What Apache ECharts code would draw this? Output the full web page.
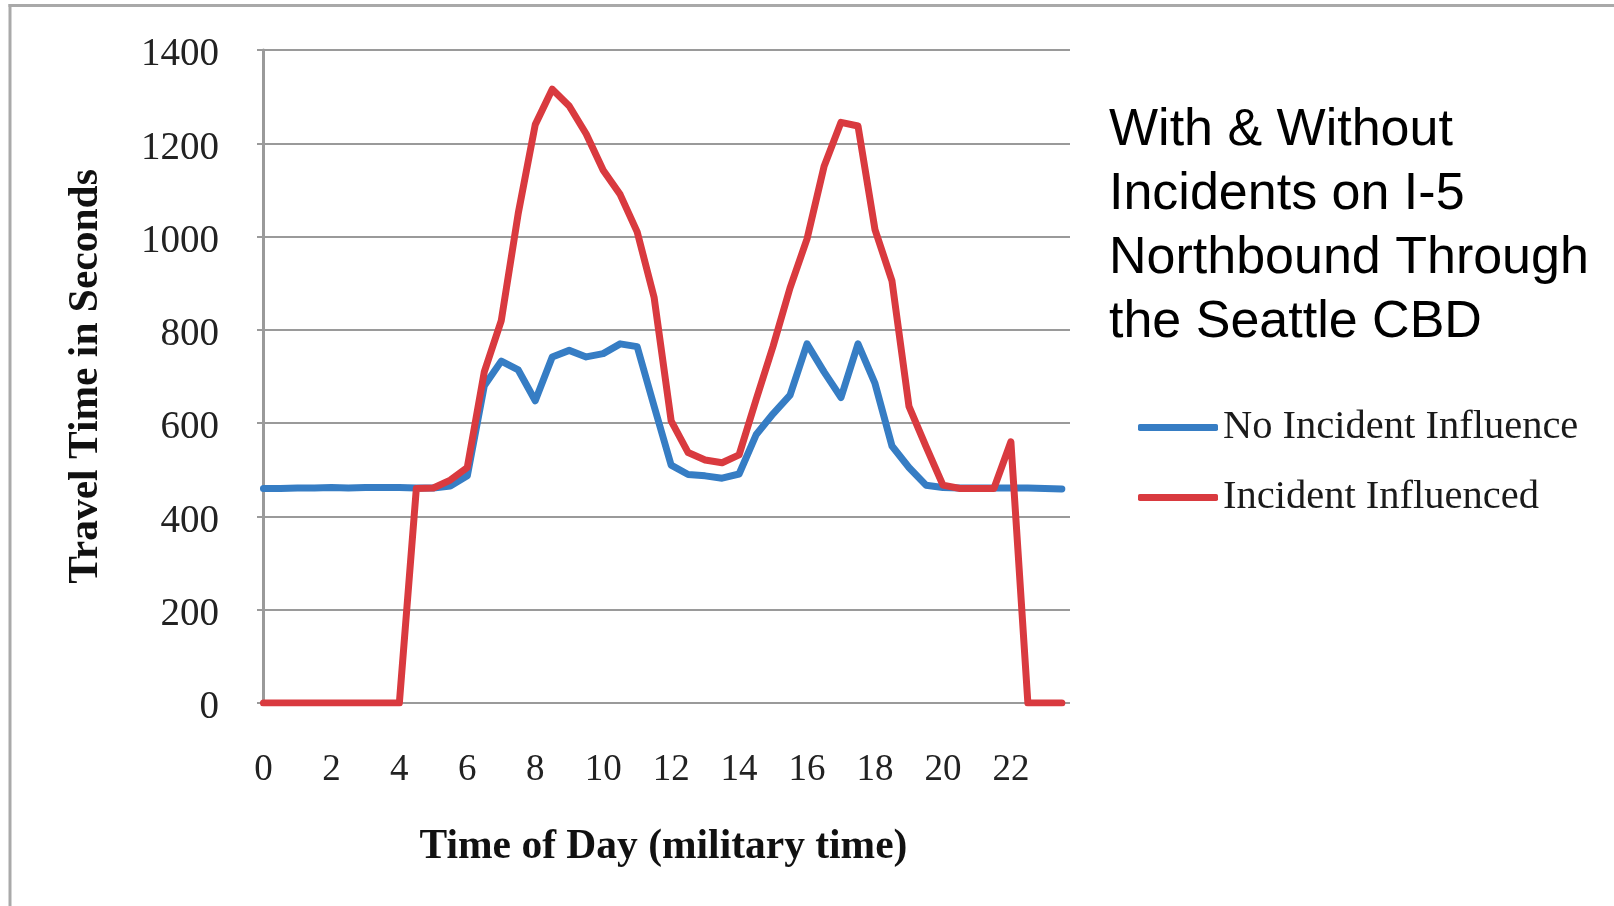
<!DOCTYPE html>
<html>
<head>
<meta charset="utf-8">
<script src="https://cdn.jsdelivr.net/npm/echarts@6/dist/echarts.min.js"></script>
<style>
html,body{margin:0;padding:0;background:#fff;}
#chart{width:1614px;height:906px;}
</style>
</head>
<body>
<div id="chart"></div>
<script>
var hours = [0,0.5,1,1.5,2,2.5,3,3.5,4,4.5,5,5.5,6,6.5,7,7.5,8,8.5,9,9.5,10,10.5,11,11.5,12,12.5,13,13.5,14,14.5,15,15.5,16,16.5,17,17.5,18,18.5,19,19.5,20,20.5,21,21.5,22,22.5,23,23.5];
var noIncident = [460,460,461,461,462,461,462,462,462,461,461,465,487,680,733,714,648,742,756,742,749,770,764,636,510,490,487,482,491,575,620,660,770,710,655,770,685,551,505,467,462,461,461,461,461,461,460,459];
var incident = [0,0,0,0,0,0,0,0,0,460,461,478,505,710,820,1050,1240,1316,1280,1220,1142,1090,1010,869,605,537,521,515,532,650,765,890,995,1150,1245,1237,1015,905,636,550,467,460,460,460,560,0,0,0];
var xTickLabels = [0,2,4,6,8,10,12,14,16,18,20,22];
var seriesNames = ['No Incident Influence','Incident Influenced'];
var titleText = 'With & Without\nIncidents on I-5\nNorthbound Through\nthe Seattle CBD';

function pairs(xs, ys){ return xs.map(function(x,i){ return [x, ys[i]]; }); }

var chart = echarts.init(document.getElementById('chart'));
chart.setOption({
  backgroundColor: '#ffffff',
  animation: false,
  title: {
    text: titleText,
    left: 1104, top: 94,
    textStyle: { fontFamily: 'Liberation Sans', fontSize: 52, lineHeight: 64, fontWeight: 'normal', color: '#000' }
  },
  legend: {
    orient: 'vertical',
    left: 1133, top: 402,
    itemWidth: 80, itemHeight: 7, itemGap: 29,
    icon: 'roundRect',
    textStyle: { fontFamily: 'Liberation Serif', fontSize: 40.5, lineHeight: 40, color: '#1a1a1a' },
    data: seriesNames
  },
  graphic: [
    { type: 'rect', shape: { x: 8.5, y: 4, width: 1606, height: 3 }, style: { fill: '#a9a9a9' } },
    { type: 'rect', shape: { x: 8.5, y: 4, width: 3, height: 902 }, style: { fill: '#a9a9a9' } }
  ],
  grid: { left: 257, right: 544, top: 50, bottom: 203, containLabel: false },
  xAxis: {
    type: 'value', min: -0.19, max: 23.74,
    name: 'Time of Day (military time)', nameLocation: 'middle', nameGap: 123,
    nameTextStyle: { fontFamily: 'Liberation Serif', fontWeight: 'bold', fontSize: 41.5, color: '#111' },
    axisLine: { show: false }, axisTick: { show: false }, splitLine: { show: false },
    axisLabel: { customValues: xTickLabels, margin: 49, fontFamily: 'Liberation Serif', fontSize: 37, color: '#222' }
  },
  yAxis: {
    type: 'value', min: 0, max: 1400, interval: 200,
    name: 'Travel Time in Seconds', nameLocation: 'middle', nameRotate: 90, nameGap: 150,
    nameTextStyle: { fontFamily: 'Liberation Serif', fontWeight: 'bold', fontSize: 41.5, color: '#111' },
    axisLine: { show: true, lineStyle: { color: '#9a9a9a', width: 3 } },
    axisTick: { show: false },
    splitLine: { show: true, lineStyle: { color: '#9a9a9a', width: 2 } },
    axisLabel: { margin: 38, fontFamily: 'Liberation Serif', fontSize: 39, color: '#222',
      verticalAlign: 'top', lineHeight: 10,
      formatter: function (v) { return String(v); } }
  },
  series: [
    { name: seriesNames[0], type: 'line', data: pairs(hours, noIncident), showSymbol: false, symbol: 'none',
      color: '#367dc4', lineStyle: { width: 7, color: '#367dc4', join: 'round', cap: 'round' } },
    { name: seriesNames[1], type: 'line', data: pairs(hours, incident), showSymbol: false, symbol: 'none',
      color: '#d93a3f', lineStyle: { width: 7, color: '#d93a3f', join: 'round', cap: 'round' } }
  ]
});
</script>
</body>
</html>
